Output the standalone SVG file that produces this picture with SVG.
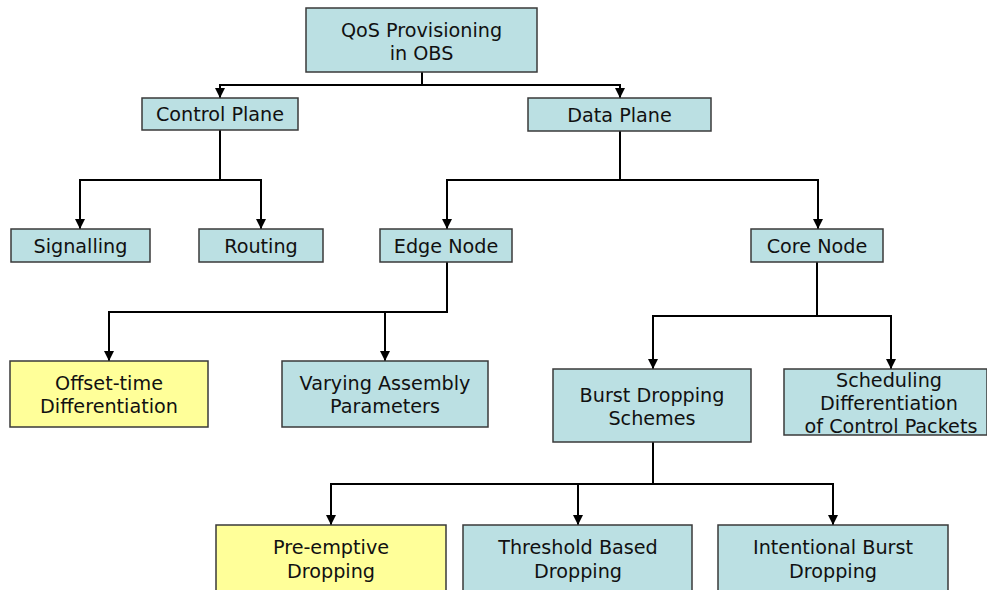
<svg xmlns="http://www.w3.org/2000/svg" width="987" height="590" viewBox="0 0 987 590">
  <style>
    .box { fill: #BBE0E3; stroke: #3a3a3a; stroke-width: 1.5; }
    .hl { fill: #FFFF99; }
    .lbl { font-family: "DejaVu Sans", Verdana, sans-serif; font-size: 19.2px; fill: #111; text-anchor: middle; dominant-baseline: central; }
    .wire { fill: none; stroke: #000; stroke-width: 2; marker-end: url(#tip); }
  </style>
  <defs>
    <marker id="tip" markerUnits="userSpaceOnUse" markerWidth="12" markerHeight="12" viewBox="0 0 12 12" refX="6" refY="12" orient="0">
      <path d="M1,2 L11,2 L6,12 Z" fill="#000"/>
    </marker>
  </defs>

  <rect width="987" height="590" fill="#fff"/>

  <g id="connectors">
    <!-- root -> planes -->
    <path class="wire" d="M422,72 V85 H220 V98"/>
    <path class="wire" d="M422,85 H620 V98"/>
    <!-- control plane -> signalling / routing -->
    <path class="wire" d="M220,130 V180 H80 V229"/>
    <path class="wire" d="M220,180 H261 V229"/>
    <!-- data plane -> edge / core -->
    <path class="wire" d="M620,131 V180 H447 V229"/>
    <path class="wire" d="M620,180 H818 V229"/>
    <!-- edge node -> offset / assembly -->
    <path class="wire" d="M447,262 V312 H109 V361"/>
    <path class="wire" d="M447,312 H385 V361"/>
    <!-- core node -> dropping / scheduling -->
    <path class="wire" d="M817,262 V316 H653 V369"/>
    <path class="wire" d="M817,316 H891 V369"/>
    <!-- burst dropping -> variants -->
    <path class="wire" d="M653,442 V484 H331 V525"/>
    <path class="wire" d="M653,484 H578 V525"/>
    <path class="wire" d="M653,484 H833 V525"/>
  </g>

  <g id="qos">
    <rect class="box" x="306" y="8" width="231" height="64"/>
    <text class="lbl" x="421.5" y="30">QoS Provisioning</text>
    <text class="lbl" x="421.5" y="53">in OBS</text>
  </g>
  <g id="control-plane">
    <rect class="box" x="142" y="98" width="156" height="32"/>
    <text class="lbl" x="220" y="114.5">Control Plane</text>
  </g>
  <g id="data-plane">
    <rect class="box" x="528" y="98" width="183" height="33"/>
    <text class="lbl" x="619.5" y="115">Data Plane</text>
  </g>
  <g id="signalling">
    <rect class="box" x="11" y="229" width="139" height="33"/>
    <text class="lbl" x="80.5" y="246">Signalling</text>
  </g>
  <g id="routing">
    <rect class="box" x="199" y="229" width="124" height="33"/>
    <text class="lbl" x="261" y="246">Routing</text>
  </g>
  <g id="edge-node">
    <rect class="box" x="380" y="229" width="132" height="33"/>
    <text class="lbl" x="446" y="246">Edge Node</text>
  </g>
  <g id="core-node">
    <rect class="box" x="751" y="229" width="132" height="33"/>
    <text class="lbl" x="817" y="246">Core Node</text>
  </g>
  <g id="offset-time">
    <rect class="box hl" x="10" y="361" width="198" height="66"/>
    <text class="lbl" x="109" y="383">Offset-time</text>
    <text class="lbl" x="109" y="406">Differentiation</text>
  </g>
  <g id="assembly">
    <rect class="box" x="282" y="361" width="206" height="66"/>
    <text class="lbl" x="385" y="383">Varying Assembly</text>
    <text class="lbl" x="385" y="406">Parameters</text>
  </g>
  <g id="burst-dropping">
    <rect class="box" x="553" y="369" width="198" height="73"/>
    <text class="lbl" x="652" y="395">Burst Dropping</text>
    <text class="lbl" x="652" y="418">Schemes</text>
  </g>
  <g id="scheduling">
    <rect class="box" x="784" y="369" width="203" height="66"/>
    <text class="lbl" x="889" y="380">Scheduling</text>
    <text class="lbl" x="889" y="403">Differentiation</text>
    <text class="lbl" x="891" y="426">of Control Packets</text>
  </g>
  <g id="pre-emptive">
    <rect class="box hl" x="216" y="525" width="230" height="75"/>
    <text class="lbl" x="331" y="547">Pre-emptive</text>
    <text class="lbl" x="331" y="571">Dropping</text>
  </g>
  <g id="threshold">
    <rect class="box" x="463" y="525" width="229" height="75"/>
    <text class="lbl" x="578" y="547">Threshold Based</text>
    <text class="lbl" x="578" y="571">Dropping</text>
  </g>
  <g id="intentional">
    <rect class="box" x="718" y="525" width="230" height="75"/>
    <text class="lbl" x="833" y="547">Intentional Burst</text>
    <text class="lbl" x="833" y="571">Dropping</text>
  </g>
</svg>
